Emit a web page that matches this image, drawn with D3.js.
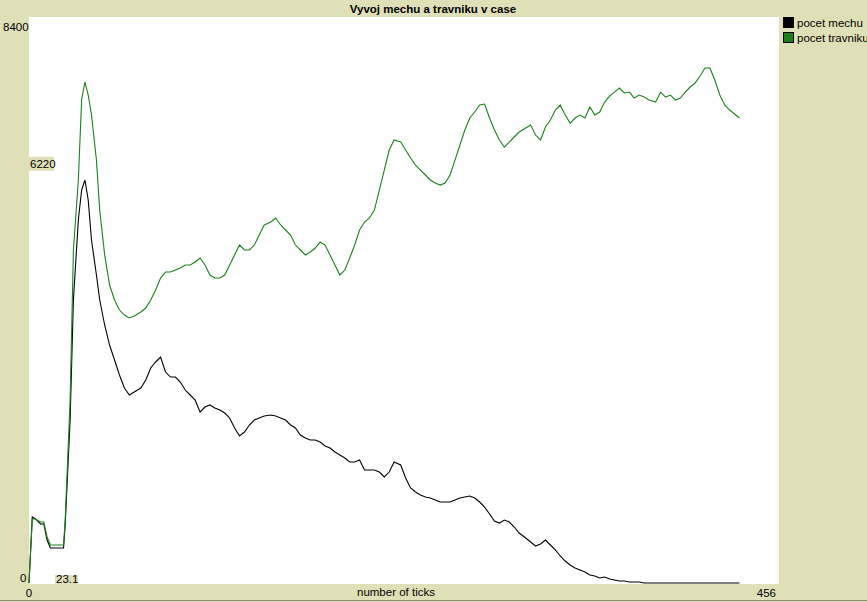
<!DOCTYPE html>
<html><head><meta charset="utf-8">
<script src="https://cdn.jsdelivr.net/npm/d3@7"></script>
<style>body{margin:0;background:#e0e0b8;}svg{display:block;font-family:"Liberation Sans",Arial,sans-serif;}</style>
</head><body>
<script>
const title = "Vyvoj mechu a travniku v case";
const xLabel = "number of ticks";
const seriesNames = ["pocet mechu", "pocet travniku"];
const seriesColors = ["#000000", "#1e7f1e"];
const xMin = 0, xMax = 456, yMin = 0, yMax = 8400;
const crossX = "23.1", crossY = 6220;

const ticks = [0,2,4,7,9,11,13,21,22,25,27,30,32,34,36,38,41,43,
46,49,52,55,58,61,64,68,71,74,77,80,83,86,89,92,95,98,101,104,107,110,113,116,119,122,125,128,131,134,137,140,143,147,150,153,156,159,162,165,168,171,174,177,180,183,186,189,192,195,198,201,204,207,210,213,216,219,222,226,229,232,235,238,241,244,247,250,253,256,259,262,265,268,271,274,277,280,283,286,289,292,295,298,302,305,308,311,314,317,320,323,326,329,332,335,338,341,344,347,350,353,356,359,362,365,368,371,374,377,381,384,387,390,393,396,399,402,405,408,411,414,417,420,423,426,429,432];

const mech = [0,979,950,876,876,638,519,519,861,2419,4200,5387,5832,5981,5684,5090,4571,4200,
3829,3532,3309,3087,2894,2790,2834,2894,3013,3191,3280,3354,3131,3057,3057,2983,2864,2790,2716,2538,2612,2642,2597,2567,2523,2449,2300,2181,2241,2345,2419,2449,2478,2493,2478,2449,2419,2345,2300,2196,2152,2122,2122,2092,2033,2003,1944,1900,1855,1796,1796,1825,1677,1677,1677,1647,1573,1647,1796,1751,1558,1410,1350,1306,1276,1261,1232,1202,1202,1202,1232,1261,1276,1291,1261,1202,1128,1024,920,890,935,905,831,742,668,608,549,579,638,564,490,401,326,267,223,193,163,119,104,74,89,59,45,30,30,15,15,15,
0,0,0,0,0,0,0,0,0,0,0,0,0,0,0,0,0,0,0,0];

const travnik = [0,950,950,905,905,683,564,564,935,2716,4942,5981,7168,7435,7242,6945,6277,5535,
4870,4422,4200,4051,3977,3933,3962,4022,4081,4200,4348,4526,4615,4615,4645,4675,4719,4719,4764,4823,4719,4571,4526,4526,4571,4719,4868,5016,4942,4942,5016,5164,5313,5357,5417,5313,5239,5164,5016,4942,4868,4912,4971,5060,5016,4868,4719,4571,4645,4823,5016,5239,5357,5417,5535,5832,6129,6426,6574,6544,6426,6307,6203,6129,6055,5981,5936,5906,5936,6055,6277,6500,6723,6901,6990,7094,7108,6901,6723,6574,6470,6544,6619,6693,6752,6797,6648,6574,6767,6871,7019,7094,6945,6826,6901,6945,6901,7064,6945,6990,7138,7227,7286,7346,7272,7286,7197,7242,7212,7168,7138,7286,7212,7242,7168,7197,7286,7361,7420,7524,7643,7643,7465,7242,7094,7019,6960,6901];

const W = 867, H = 602;
const L = 29, T = 17, R = 779, B = 584;
const svg = d3.select("body").append("svg").attr("width", W).attr("height", H);
svg.append("rect").attr("width", W).attr("height", H).attr("fill", "#e0e0b8");
svg.append("line").attr("x1",0).attr("x2",W).attr("y1",H-1.5).attr("y2",H-1.5).attr("stroke","#8a8a70");
svg.append("rect").attr("x", L).attr("y", T).attr("width", R - L).attr("height", B - T).attr("fill", "#fff");

const x = d3.scaleLinear().domain([xMin, xMax]).range([L, R]);
const y = d3.scaleLinear().domain([yMin, yMax]).range([B - 1, T]);

svg.append("text").attr("x", 433).attr("y", 13).attr("text-anchor", "middle")
  .attr("font-size", 11.5).attr("font-weight", "bold").text(title);

const line = d3.line().x((d, i) => x(ticks[i])).y(d => y(d));
[mech, travnik].forEach((s, i) => {
  svg.append("path").datum(s).attr("d", line).attr("fill", "none")
    .attr("stroke", seriesColors[i]).attr("stroke-width", 1.1);
});

const fs = 11.5;
svg.append("text").attr("x", 3).attr("y", 31).attr("font-size", fs).text(yMax);
svg.append("text").attr("x", 20).attr("y", B - 2).attr("font-size", fs).text(yMin);
svg.append("text").attr("x", L).attr("y", 597).attr("font-size", fs).attr("text-anchor","middle").text(xMin);
svg.append("text").attr("x", R - 3).attr("y", 597).attr("font-size", fs).attr("text-anchor","end").text(xMax);
svg.append("text").attr("x", 396).attr("y", 596).attr("font-size", fs).attr("text-anchor","middle").text(xLabel);

// crosshair labels
const cy = y(crossY);
svg.append("rect").attr("x", L).attr("y", cy - 7).attr("width", 25).attr("height", 14).attr("fill", "#e0e0b8");
svg.append("text").attr("x", L + 1).attr("y", cy + 4).attr("font-size", fs).text(crossY);
const cx = x(+crossX);
svg.append("rect").attr("x", cx - 12).attr("y", B - 9).attr("width", 23).attr("height", 9).attr("fill", "#e0e0b8");
svg.append("text").attr("x", cx - 11).attr("y", B - 1).attr("font-size", fs).text(crossX);

// legend
seriesNames.forEach((n, i) => {
  svg.append("rect").attr("x", 783.5).attr("y", 17.5 + i * 15).attr("width", 10).attr("height", 10)
    .attr("fill", seriesColors[i]).attr("stroke", "#000");
  svg.append("text").attr("x", 797).attr("y", 27 + i * 15).attr("font-size", fs).text(n);
});
</script>
</body></html>
